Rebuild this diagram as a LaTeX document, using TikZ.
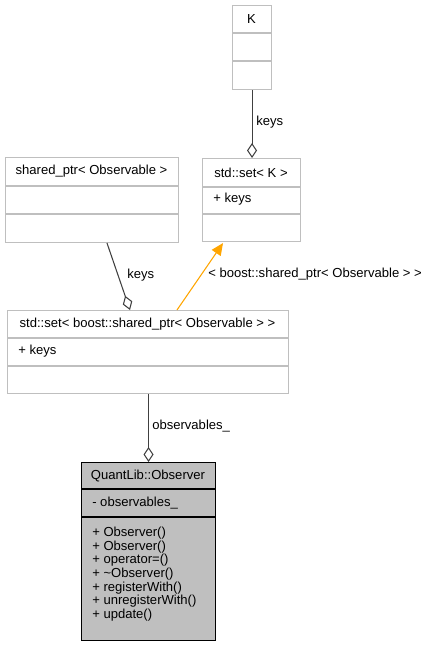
\documentclass[tikz,border=0pt]{standalone}
\usepackage{fontspec}
\setmainfont{Liberation Sans}
\usetikzlibrary{arrows.meta,calc}
\definecolor{boxline}{HTML}{BFBFBF}
\definecolor{edgeline}{HTML}{404040}
\definecolor{tmplline}{HTML}{FFA500}
\definecolor{curfill}{HTML}{BFBFBF}
\begin{document}
\begin{tikzpicture}[x=0.75pt,y=-0.75pt,
  font=\fontsize{9.8}{11.7}\selectfont,
  classbox/.style={draw=boxline,line width=0.8pt,fill=white,inner sep=0pt,anchor=north west},
  curbox/.style={draw=black,line width=0.8pt,fill=curfill,inner sep=0pt,anchor=north west},
  sep/.style={draw=boxline,line width=0.8pt},
  cursep/.style={draw=black,line width=0.8pt},
  member/.style={anchor=west,inner sep=0pt},
  title/.style={anchor=center,inner sep=0pt},
  edge/.style={draw=edgeline,line width=0.8pt},
  tmpl/.style={draw=tmplline,line width=0.8pt},
  agg/.style={{Diamond[open,length=11.25pt,width=7.5pt]}-},
  lbl/.style={anchor=west,inner sep=0pt}]
\useasboundingbox (0,0) rectangle (431,656);

% class K
\node[classbox,minimum width=29.25pt,minimum height=63pt] (K) at (232,5) {};
\draw[sep] ($(K.north west)+(0,28)$) -- ++(39,0);
\draw[sep] ($(K.north west)+(0,56)$) -- ++(39,0);
\node[title] (Kt) at (251.5,19) {K};

% std::set< K >
\node[classbox,minimum width=73.5pt,minimum height=62.25pt] (setK) at (202,158) {};
\draw[sep] ($(setK.north west)+(0,29)$) -- ++(98,0);
\draw[sep] ($(setK.north west)+(0,56)$) -- ++(98,0);
\node[title] (setKt) at (251,172.5) {std::set< K >};
\node[member] (setKm) at (213,199) {+ keys};

% shared_ptr< Observable >
\node[classbox,minimum width=129.75pt,minimum height=63.75pt] (sp) at (5,157) {};
\draw[sep] ($(sp.north west)+(0,29)$) -- ++(173,0);
\draw[sep] ($(sp.north west)+(0,57)$) -- ++(173,0);
\node[title] (spt) at (91.5,171.5) {shared\_ptr< Observable >};

% std::set< boost::shared_ptr< Observable > >
\node[classbox,minimum width=210.75pt,minimum height=62.25pt] (setB) at (7,310) {};
\draw[sep] ($(setB.north west)+(0,28)$) -- ++(281,0);
\draw[sep] ($(setB.north west)+(0,56)$) -- ++(281,0);
\node[title] (setBt) at (147.5,324) {std::set< boost::shared\_ptr< Observable > >};
\node[member] (setBm) at (18,351) {+ keys};

% QuantLib::Observer
\node[curbox,minimum width=100.5pt,minimum height=133.5pt] (obs) at (81,462) {};
\draw[cursep] ($(obs.north west)+(0,27)$) -- ++(134,0);
\draw[cursep] ($(obs.north west)+(0,55)$) -- ++(134,0);
\node[title] (obst) at (148,475.5) {QuantLib::Observer};
\node[member] (obsa) at (92,503) {- observables\_};
\node[member] (obs1) at (92,533) {+ Observer()};
\node[member] (obs2) at (92,546.7) {+ Observer()};
\node[member] (obs3) at (92,560.4) {+ operator=()};
\node[member] (obs4) at (92,574.1) {+ \char"007EObserver()};
\node[member] (obs5) at (92,587.8) {+ registerWith()};
\node[member] (obs6) at (92,601.5) {+ unregisterWith()};
\node[member] (obs7) at (92,615.2) {+ update()};

% connectors
\draw[edge,agg] (K.south |- setK.north) -- (K.south);
\node[lbl] (l1) at (256,122) {keys};

\draw[edge,agg] ($(setB.north west)+(123,0)$) -- ($(sp.south west)+(102,0)$);
\node[lbl] (l2) at (127,275) {keys};

\draw[tmpl,-{Triangle[length=9pt,width=8pt]}] ($(setB.north west)+(170,0)$) -- ($(setK.south west)+(21,1)$);
\node[lbl] (l3) at (208,274) {< boost::shared\_ptr< Observable > >};

\draw[edge,agg] (obs.north) -- (obs.north |- setB.south);
\node[lbl] (l4) at (152,426) {observables\_};
\end{tikzpicture}
\end{document}
